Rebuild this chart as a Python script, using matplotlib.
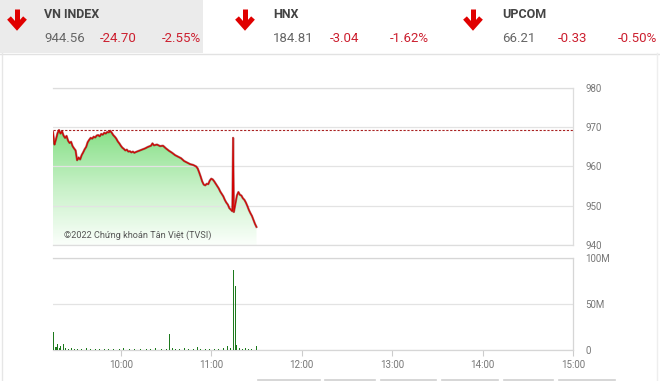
import numpy as np
import matplotlib
matplotlib.use("Agg")
import matplotlib.pyplot as plt
from matplotlib.colors import LinearSegmentedColormap
from matplotlib.lines import Line2D
import matplotlib.patheffects as pe

plt.rcParams['font.family'] = ['Roboto', 'DejaVu Sans']

# header boxes
index_names = ["VN INDEX", "HNX", "UPCOM"]
index_values = ["944.56", "184.81", "66.21"]
index_changes = ["-24.70", "-3.04", "-0.33"]
index_pcts = ["-2.55%", "-1.62%", "-0.50%"]

# intraday VN-Index (minutes since 00:00, points)
price_time = [555, 556, 557, 558, 559, 560, 561, 562, 563, 564, 565, 566, 567, 568, 569,
              570, 571, 572, 573, 574, 575, 576, 577, 578, 579, 580, 581, 582, 583, 584,
              585, 586, 587, 588, 589, 590, 591, 592, 593, 594, 595, 596, 597, 598, 599,
              600, 601, 602, 603, 604, 605, 606, 607, 608, 609, 610, 612, 614, 616, 618,
              620, 621, 622, 624, 626, 628, 630, 632, 634, 636, 638, 640, 642, 644, 646,
              648, 650, 651, 652, 653, 654, 655, 656, 657, 658, 659, 660, 661, 662, 663,
              664, 665, 666, 667, 668, 669, 670, 671, 672, 673, 674, 674.5, 675, 676, 677,
              678, 679, 680, 681, 682, 683, 684, 685, 686, 687, 688, 689, 690]
price_value = [968.8, 965.6, 967.0, 968.5, 969.3, 968.4, 969.0, 967.9, 967.3, 967.8, 966.6, 966.0, 966.3, 965.2, 964.6,
               964.1, 961.6, 962.3, 961.8, 962.9, 963.6, 964.4, 965.0, 966.2, 966.8, 967.3, 967.1, 967.6, 967.4, 967.9,
               968.0, 967.7, 968.3, 968.1, 968.6, 968.4, 968.8, 968.7, 969.1, 968.6, 968.0, 967.6, 967.1, 966.4, 965.9,
               965.3, 964.8, 964.5, 964.1, 964.3, 963.8, 963.9, 963.6, 963.8, 963.5, 963.7, 964.0, 964.3, 964.6, 965.0,
               965.3, 965.9, 965.4, 965.6, 965.2, 965.3, 964.6, 964.0, 963.5, 962.9, 962.5, 962.1, 961.4, 961.0, 960.6,
               960.4, 960.0, 959.5, 958.5, 957.4, 956.2, 955.4, 955.2, 955.6, 955.5, 956.4, 956.9, 956.7, 956.2, 955.6,
               955.0, 954.4, 953.6, 953.0, 952.4, 951.5, 950.8, 950.3, 949.4, 949.0, 948.6, 967.3, 948.4, 950.5, 952.6,
               953.5, 952.8, 952.6, 951.9, 951.5, 950.8, 949.9, 948.9, 948.1, 947.4, 946.4, 945.4, 944.6]
ref_price = 969.26

# traded volume (minutes since 00:00, millions)
vol_time = [555, 557, 558, 559, 560, 562, 563, 565, 567, 569, 571, 574, 577, 580, 583,
            586, 589, 592, 595, 599, 602, 606, 609, 613, 617, 620, 623, 627, 630, 632.5,
            634, 636, 639, 642, 645, 648, 651, 653, 656, 659, 662, 665, 668, 671, 673,
            675, 676, 677, 679, 681, 683, 685, 687, 690]
vol_value = [20, 3, 7, 2, 4, 6, 2, 1.5, 2, 1, 1.5, 1, 2, 1, 1.5,
             1, 1, 1.5, 1, 1, 2, 1, 1, 1, 1.5, 1, 2, 1, 1.5, 17,
             2, 1.5, 1, 2, 1.5, 1, 3, 1.5, 1, 1.5, 1, 1, 2, 4, 2,
             87, 70, 5, 2, 1.5, 2, 1, 1.5, 4.5]

hour_ticks = [600, 660, 720, 780, 840, 900]
hour_labels = ["10:00", "11:00", "12:00", "13:00", "14:00", "15:00"]

W, H = 660, 381
fig = plt.figure(figsize=(6.6, 3.81), dpi=100)
fig.patch.set_facecolor("white")

def box(x0, y0, x1, y1):
    return [x0 / W, 1 - y1 / H, (x1 - x0) / W, (y1 - y0) / H]

# page overlay in pixel coordinates
bg = fig.add_axes([0, 0, 1, 1], zorder=0)
bg.set_xlim(0, W)
bg.set_ylim(H, 0)
bg.axis("off")
bg.add_patch(plt.Rectangle((0, 0), 203, 53, color="#ebebeb", lw=0))
bg.add_line(Line2D([0, W], [53.5, 53.5], color="#e2e2e2", lw=1))
bg.add_line(Line2D([2, 2], [53, H], color="#e6e6e6", lw=1))
bg.add_line(Line2D([657, 657], [53, H], color="#eeeeee", lw=1))
for x0, x1 in [(258, 320), (325, 375), (381, 436), (442, 498), (504, 553), (559, 615)]:
    bg.add_line(Line2D([x0, x1], [380, 380], color="#cfcfcf", lw=1.2))

arrow_x = [17, 245, 473]
title_x = [44, 273, 502]
chg_x = [100, 330, 558]
pct_x = [162, 390, 618]
for i in range(3):
    ax_ = arrow_x[i]
    bg.plot([ax_, ax_], [9, 26], color="#e00000", lw=3.6, solid_capstyle="butt")
    bg.plot([ax_ - 8, ax_, ax_ + 8], [18, 27, 18], color="#e00000", lw=3.6,
            solid_joinstyle="miter", solid_capstyle="butt")
    bg.text(title_x[i], 14, index_names[i], fontsize=9, fontweight="bold",
            color="#444444", va="center", ha="left")
    bg.text(title_x[i], 39, index_values[i], fontsize=9.5, color="#666666",
            va="center", ha="left")
    bg.text(chg_x[i], 39, index_changes[i], fontsize=9.5, color="#cc1f2f",
            va="center", ha="left")
    bg.text(pct_x[i], 39, index_pcts[i], fontsize=9.5, color="#cc1f2f",
            va="center", ha="left")

tick_color = "#777777"
grid_color = "#e3e3e3"

# price panel
ax = fig.add_axes(box(53, 88, 573, 245), zorder=2)
ax.set_xlim(555, 900)
ax.set_ylim(940, 980)
poly = ax.fill_between(price_time, price_value, 940, color="none", lw=0)
cmap = LinearSegmentedColormap.from_list("g", ["#fbfffb", "#c8f1c8", "#88e088"])
grad = np.linspace(0, 1, 256).reshape(-1, 1)
img = ax.imshow(grad, cmap=cmap, aspect="auto", origin="lower",
                extent=[555, 700, 940, 969], zorder=1)
img.set_clip_path(poly.get_paths()[0], transform=ax.transData)
ax.plot(price_time, price_value, color="#d40000", lw=0.8, zorder=3,
        path_effects=[pe.Stroke(linewidth=1.6, foreground="#7a0000", alpha=0.55), pe.Normal()])
ax.axhline(ref_price, color="#a82020", lw=0.8, ls=(0, (2, 1.5)), zorder=2)
ax.set_yticks([940, 950, 960, 970, 980])
ax.yaxis.tick_right()
ax.tick_params(axis="y", length=0, pad=9, labelsize=7, labelcolor=tick_color)
ax.set_xticks([])
ax.grid(axis="y", color=grid_color, lw=0.9, zorder=0)
ax.spines["left"].set_visible(False)
for s in ["top", "right", "bottom"]:
    ax.spines[s].set_color("#dddddd")
    ax.spines[s].set_linewidth(0.9)
ax.text(562, 941.2, "©2022 Chứng khoán Tân Việt (TVSI)", fontsize=6.6,
        color="#555555", va="bottom", ha="left", zorder=4)

# volume panel
av = fig.add_axes(box(53, 258, 573, 350), zorder=2)
av.set_xlim(555, 900)
av.set_ylim(0, 100)
av.bar(vol_time, vol_value, width=0.7, color="#1d7a1d", lw=0, zorder=3)
av.set_yticks([0, 50, 100])
av.set_yticklabels(["0", "50M", "100M"])
av.yaxis.tick_right()
av.tick_params(axis="y", length=0, pad=9, labelsize=7, labelcolor=tick_color)
av.set_xticks(hour_ticks)
av.set_xticklabels(hour_labels)
av.tick_params(axis="x", length=4, width=0.8, color="#cccccc", pad=3,
               labelsize=7, labelcolor=tick_color)
av.grid(axis="y", color=grid_color, lw=0.9, zorder=0)
av.spines["left"].set_visible(False)
for s in ["top", "right", "bottom"]:
    av.spines[s].set_color("#d6d6d6")
    av.spines[s].set_linewidth(0.9)

fig.savefig("out.png", dpi=100)
